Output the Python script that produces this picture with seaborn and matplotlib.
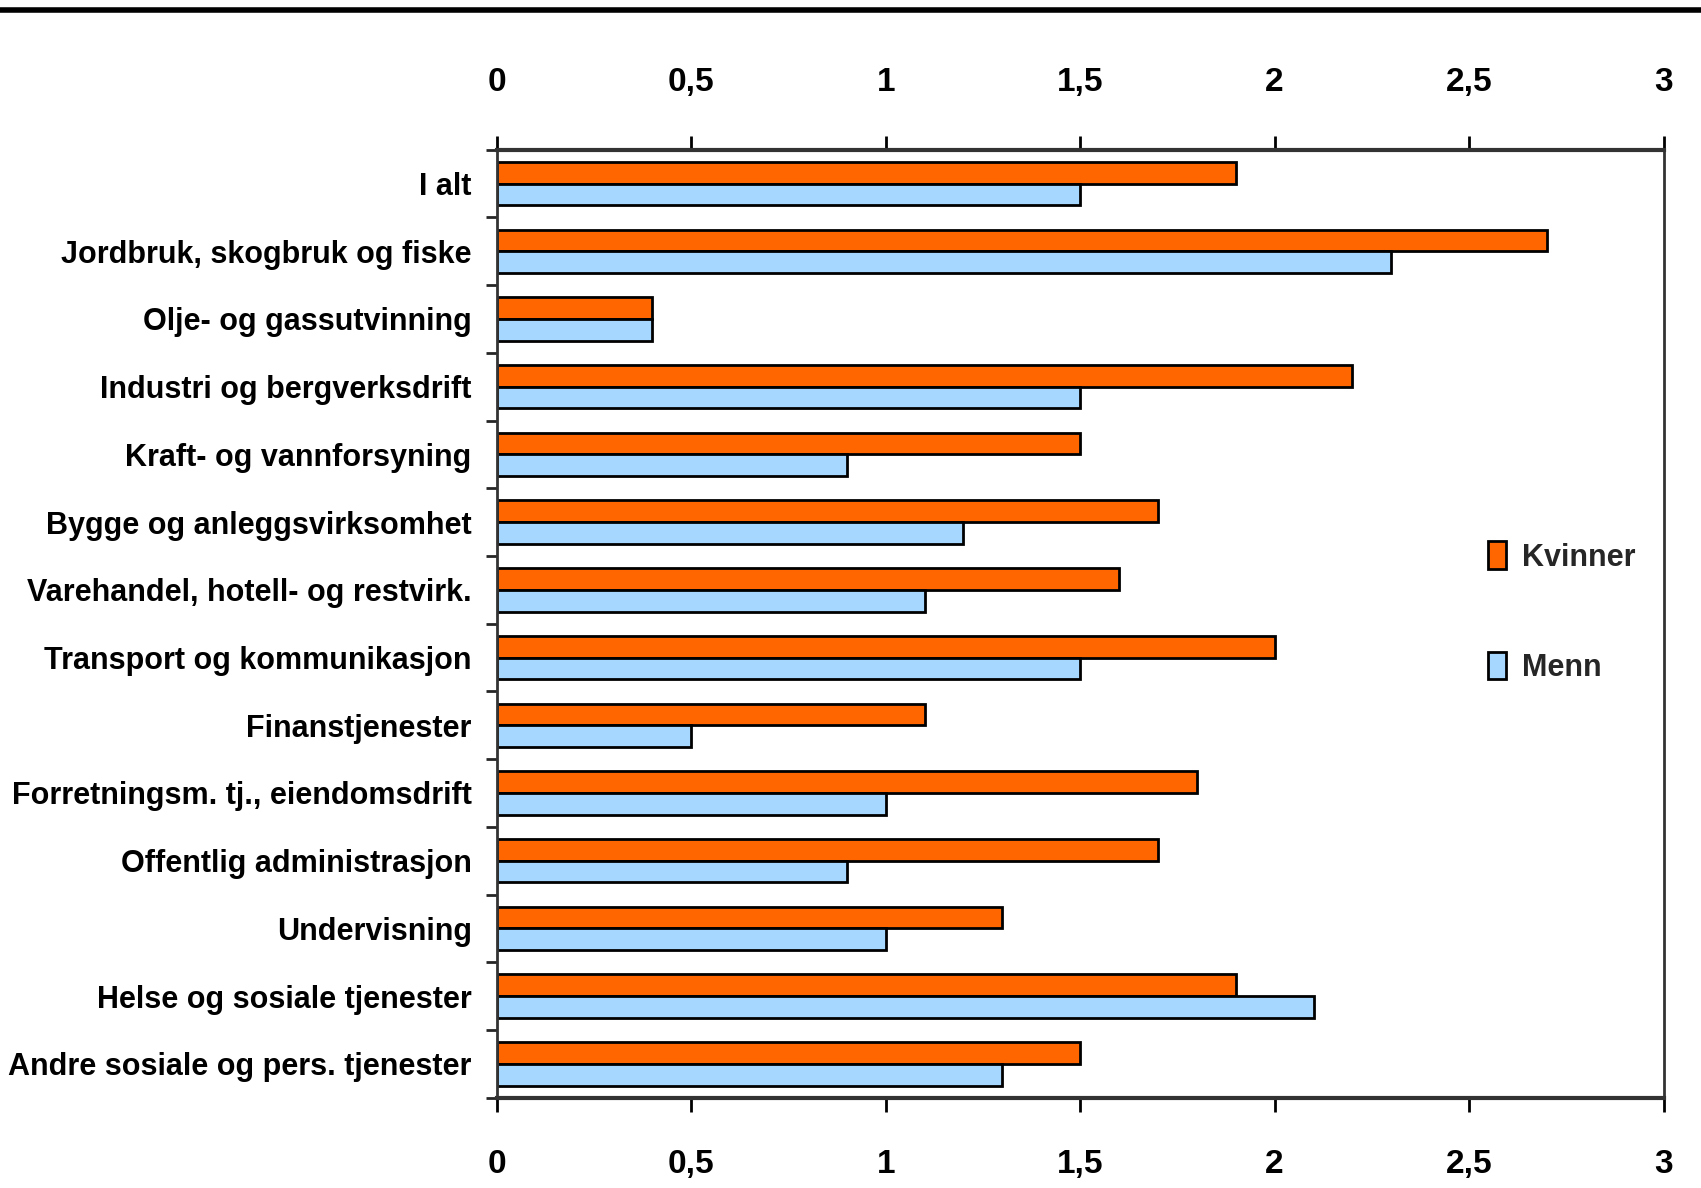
import pandas as pd
import seaborn as sns
import numpy as np
from matplotlib import pyplot as plt
from matplotlib.ticker import FixedLocator

# Sykefravær etter næring, kvinner og menn
naering = ["I alt", "Jordbruk, skogbruk og fiske", "Olje- og gassutvinning",
           "Industri og bergverksdrift", "Kraft- og vannforsyning",
           "Bygge og anleggsvirksomhet", "Varehandel, hotell- og restvirk.",
           "Transport og kommunikasjon", "Finanstjenester",
           "Forretningsm. tj., eiendomsdrift", "Offentlig administrasjon",
           "Undervisning", "Helse og sosiale tjenester",
           "Andre sosiale og pers. tjenester"]
kvinner = [1.9, 2.7, 0.4, 2.2, 1.5, 1.7, 1.6, 2.0, 1.1, 1.8, 1.7, 1.3, 1.9, 1.5]
menn = [1.5, 2.3, 0.4, 1.5, 0.9, 1.2, 1.1, 1.5, 0.5, 1.0, 0.9, 1.0, 2.1, 1.3]
xticks = [0, 0.5, 1, 1.5, 2, 2.5, 3]
xticklabels = ["0", "0,5", "1", "1,5", "2", "2,5", "3"]

df = pd.DataFrame({"Næring": naering * 2,
                   "Verdi": kvinner + menn,
                   "Kjønn": ["Kvinner"] * len(naering) + ["Menn"] * len(naering)})

sns.set_style("white")
plt.rcParams['font.family'] = ['Liberation Sans', 'DejaVu Sans']
plt.rcParams['font.weight'] = 'bold'

fig = plt.figure(figsize=(17.01, 11.88), dpi=100)
ax = fig.add_axes([0.292, 0.076, 0.686, 0.798])

sns.barplot(data=df, y="Næring", x="Verdi", hue="Kjønn", orient="h",
            palette={"Kvinner": "#FF6600", "Menn": "#A6D8FF"}, saturation=1,
            edgecolor="black", linewidth=2, width=0.64, ax=ax)

ax.set_xlim(0, 3)
ax.set_ylim(len(naering) - 0.5, -0.5)
ax.set_xticks(xticks)
ax.set_xticklabels(xticklabels)
ax.tick_params(axis="x", which="both", top=True, labeltop=True, bottom=True,
               labelbottom=True, direction="out", length=10, width=2,
               labelsize=24, pad=27, colors="black")
ax.tick_params(axis="y", which="major", length=0, labelsize=22, pad=18,
               colors="black")
ax.yaxis.set_minor_locator(FixedLocator(np.arange(-0.5, len(naering), 1)))
ax.tick_params(axis="y", which="minor", left=True, direction="out", length=8, width=2)
ax.set_xlabel("")
ax.set_ylabel("")
for s in ax.spines.values():
    s.set_color("#333333")
    s.set_linewidth(2)
ax.spines["top"].set_linewidth(3)
ax.spines["bottom"].set_linewidth(3)

ax.legend(loc="center left", bbox_to_anchor=(0.826, 0.512), frameon=False,
          fontsize=22, labelspacing=2.6, handlelength=0.6, handleheight=1.0,
          handletextpad=0.5)

# tykk linje øverst
fig.add_artist(plt.Line2D([0, 1], [0.992, 0.992], color="black", linewidth=4,
                          transform=fig.transFigure))

fig.savefig("out.png", dpi=100)
